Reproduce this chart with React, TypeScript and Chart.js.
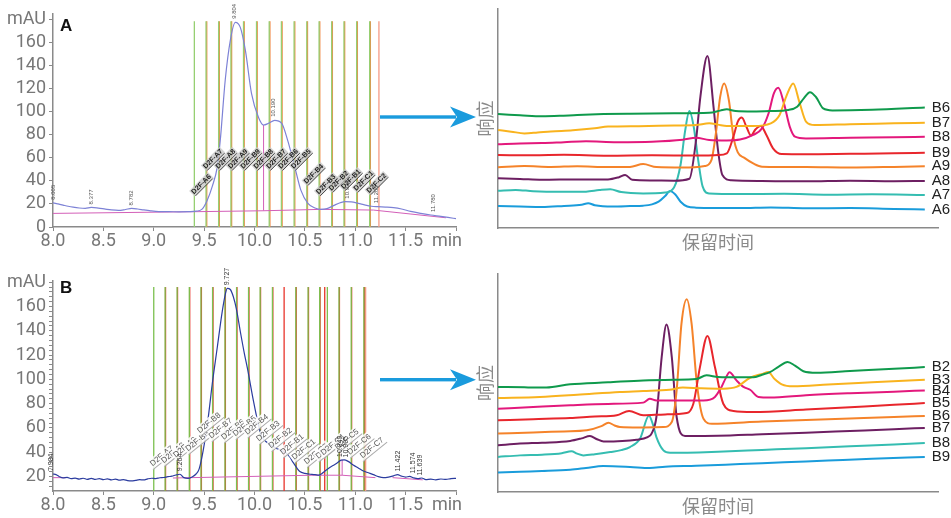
import React, { useEffect, useRef } from 'react';
import { Chart, registerables } from 'chart.js';
Chart.register(...registerables);

// ---------------- Left panels: axis ticks ----------------
const xTicksMin = [8, 8.5, 9, 9.5, 10, 10.5, 11, 11.5, 12];
const yTicksA = [0, 20, 40, 60, 80, 100, 120, 140, 160, 180];
const yTicksB = [12, 16, 20, 24, 28, 32, 36, 40, 44, 48, 52, 56, 60, 64, 68, 72, 76, 80, 84, 88, 92, 96, 100, 104, 108, 112, 116, 120, 124, 128, 132, 136, 140, 144, 148, 152, 156, 160, 164, 168, 172, 176, 180];

// ---------------- Panel A chromatogram (min, mAU) ----------------
const chromA: [number, number][] = [
  [8.00, 21], [8.05, 20], [8.10, 19], [8.15, 18], [8.20, 17.2], [8.26, 16.5], [8.32, 16.2], [8.38, 17], [8.45, 16.4],
  [8.52, 15.5], [8.58, 14.8], [8.65, 14.4], [8.72, 15.2], [8.78, 16.1], [8.84, 15.6], [8.90, 14.8], [8.97, 14],
  [9.05, 13.4], [9.15, 13.3], [9.25, 13.2], [9.35, 13.3], [9.42, 13.7], [9.48, 15.5], [9.53, 23], [9.58, 35],
  [9.63, 52], [9.66, 75], [9.71, 128], [9.76, 162], [9.81, 177.5], [9.86, 173], [9.91, 153], [9.97, 116],
  [10.04, 95], [10.09, 88.5], [10.14, 90], [10.20, 92.5], [10.27, 90], [10.33, 75], [10.40, 52], [10.46, 32],
  [10.53, 20.5], [10.60, 16.5], [10.66, 15.3], [10.72, 16], [10.79, 18.8], [10.85, 21], [10.90, 22], [10.96, 21.8],
  [11.03, 20.5], [11.10, 19], [11.16, 18], [11.22, 17.6], [11.30, 17.3], [11.38, 16.8], [11.46, 15.6], [11.55, 13.5],
  [11.65, 11.8], [11.75, 10.4], [11.85, 9.2], [11.92, 8.3], [12.0, 7.2],
];
const baseA: [number, number | null][] = [
  [8.0, 11.8], [9.42, 13.3], [10.09, 14.1], [10.66, 15.3], [11.18, 14.7], [11.9, 8], [11.91, null],
  [10.09, 14.1], [10.09, 88.5],
];
const fracA_pos = [9.403, 9.519, 9.644, 9.766, 9.891, 10.020, 10.146, 10.267, 10.393, 10.519, 10.641, 10.766, 10.888, 11.014, 11.143, 11.228];
const fracA_labels = ['D2F-A6', 'D2F-A7', 'D2F-A8', 'D2F-A9', 'D2F-B9', 'D2F-B8', 'D2F-B7', 'D2F-B6', 'D2F-B5', 'D2F-B4', 'D2F-B3', 'D2F-B2', 'D2F-B1', 'D2F-C1', 'D2F-C2'];
const fracA_labelY = [37, 59, 59, 59, 59, 59, 59, 59, 59, 46, 37, 40, 41.5, 40, 38];
const peakA_t = [8.005, 8.377, 8.782, 9.804, 10.190, 10.926, 11.206, 11.780];
const peakA_y = [21, 17, 16.1, 178, 93, 22, 18, 10.4];
const peakA_text = ['8.005', '8.377', '8.782', '9.804', '10.190', '10.926', '11.206', '11.780'];

// ---------------- Panel B chromatogram (min, mAU) ----------------
const chromB: [number, number][] = [
  [8.00, 22], [8.03, 21.5], [8.06, 20], [8.10, 18.8], [8.14, 19.2], [8.18, 18.2], [8.22, 18.6], [8.26, 17.8], [8.30, 18.5],
  [8.34, 17.6], [8.38, 18.4], [8.42, 17.5], [8.46, 18.2], [8.50, 17.4], [8.54, 18], [8.58, 17.2], [8.62, 17.8],
  [8.66, 16.9], [8.70, 17.4], [8.74, 16.6], [8.78, 16.3], [8.82, 16.8], [8.86, 17.3], [8.90, 17.1], [8.94, 18],
  [8.98, 18.5], [9.02, 18.2], [9.06, 18.9], [9.10, 19.1], [9.14, 19.8], [9.18, 20.2], [9.22, 21.2], [9.26, 21.8],
  [9.30, 19], [9.34, 18.4], [9.38, 19.6], [9.42, 22], [9.45, 26], [9.49, 41], [9.54, 68], [9.58, 95.7], [9.63, 126],
  [9.68, 156], [9.71, 170], [9.73, 175], [9.76, 174], [9.79, 168], [9.82, 158], [9.86, 139], [9.90, 121], [9.93, 109],
  [9.99, 82], [10.04, 62], [10.07, 53], [10.11, 49], [10.16, 46], [10.21, 43.5], [10.26, 41.5], [10.31, 39.5],
  [10.35, 36], [10.38, 32], [10.42, 27], [10.45, 24], [10.50, 22.5], [10.54, 22], [10.60, 21.5], [10.64, 21],
  [10.67, 22.5], [10.70, 24.5], [10.74, 27], [10.78, 29], [10.82, 31], [10.86, 33.5], [10.89, 33.7], [10.93, 32.4],
  [10.98, 29.5], [11.03, 27], [11.08, 24.5], [11.13, 23], [11.18, 21.5], [11.23, 19.8], [11.28, 19], [11.33, 19.5],
  [11.38, 20.5], [11.42, 21.5], [11.46, 20.2], [11.50, 19.5], [11.54, 20], [11.58, 18.8], [11.62, 18.2], [11.66, 18.7],
  [11.70, 17.3], [11.75, 17.8], [11.80, 17.2], [11.85, 17.9], [11.90, 17.5], [11.95, 18.2], [12.0, 18.4],
];
const baseB: [number, number | null][] = [
  [8.0, 19], [8.13, 19], [8.14, null],
  [9.19, 18.7], [10.57, 21], [10.87, 21], [11.2, 19], [11.21, null],
  [10.87, 21], [10.87, 33.7], [10.871, null],
  [11.37, 19], [11.67, 17.2],
];
const fracB_green = [9.0, 9.113, 9.232, 9.353, 9.469, 9.584, 9.707, 9.822, 9.941, 10.056, 10.178, 10.41, 10.532, 10.647, 10.723, 10.839, 10.96, 11.086];
const fracB_red = [9.117, 9.236, 9.357, 9.473, 9.588, 9.711, 9.826, 9.945, 10.06, 10.182, 10.294, 10.414, 10.536, 10.651, 10.697, 10.843, 10.964, 11.09];
const fracB_end = [11.103];
const fracB_pos = [9.0, 9.113, 9.232, 9.353, 9.469, 9.584, 9.707, 9.822, 9.941, 10.056, 10.178, 10.294, 10.41, 10.532, 10.647, 10.697, 10.839, 10.96, 11.086];
const fracB_labels = ['D2F-A7', 'D2F-A8', 'D2F-A9', 'D2F-B9', 'D2F-B8', 'D2F-B7', 'D2F-B6', 'D2F-B5', 'D2F-B4', 'D2F-B3', 'D2F-B2', 'D2F-B1', 'D2F-C1', 'D2F-C2', 'D2F-C3', 'D2F-C4', 'D2F-C5', 'D2F-C6', 'D2F-C7'];
const fracB_labelY = [36.8, 39.3, 44, 49, 64, 59.5, 58.6, 61.4, 62.7, 57.3, 51.6, 46.3, 42.2, 38.5, 43, 46, 50.4, 46.3, 43.4];
const peakB_t = [7.984, 9.264, 9.727, 10.849, 10.905, 11.422, 11.574, 11.639];
const peakB_y = [22, 21.8, 175, 33.6, 33.2, 21.5, 20, 18.2];
const peakB_text = ['7.984', '9.264', '9.727', '10.849', '10.905', '11.422', '11.574', '11.639'];

// ---------------- Right panels: overlaid fraction traces ----------------
const overlayA_names = ['B6', 'B7', 'B8', 'B9', 'A9', 'A8', 'A7', 'A6'];
const overlayB_names = ['B2', 'B3', 'B4', 'B5', 'B6', 'B7', 'B8', 'B9'];
const traceColors = ['#0f9a4c', '#f9b31e', '#e3187c', '#e8262c', '#f5832a', '#6d1f62', '#35bdb1', '#1a9cdb'];

const tA_B6: [number, number][] = [[0, 52], [5, 51.5], [10, 51], [14, 51.2], [18, 51.6], [24, 52], [30, 52.2], [40, 52.4], [48, 52.6], [50.5, 53.6], [52, 54.2], [54, 53.4], [58, 53.2], [62, 53.4], [66, 53.9], [68, 55.4], [69.5, 59.2], [70.9, 62], [72.3, 59.7], [73.9, 54.6], [76, 53.7], [85, 54], [97, 55]];
const tA_B7: [number, number][] = [[0, 44.7], [3, 44], [6, 43.2], [9, 43.6], [12, 44.1], [17, 44.6], [22, 45.5], [25, 46.3], [32, 46.5], [40, 46.8], [45, 47], [48, 47.8], [50, 47.2], [52, 46.6], [58, 46.6], [62, 47.8], [64, 51.6], [65.5, 60], [67.1, 66], [68.5, 57.5], [70, 48.6], [72, 47], [80, 47.4], [90, 47.8], [97, 48.1]];
const tA_B8: [number, number][] = [[0, 38.2], [5, 38.6], [10, 38.8], [15, 39.2], [20, 39.6], [27, 39.2], [35, 39.4], [42, 40.3], [45, 41.2], [48, 40.2], [52, 40], [55, 40.4], [58, 42.5], [60, 45.5], [61.5, 52.4], [62.7, 61.5], [63.7, 64], [65, 56.8], [66.3, 46.3], [67.5, 41.7], [70, 40.9], [80, 41.2], [90, 41.4], [97, 41.7]];
const tA_B9: [number, number][] = [[0, 33.3], [8, 33.2], [15, 33.4], [25, 33], [35, 33.2], [45, 33.1], [50, 33.3], [52, 34.1], [53.5, 41.7], [54.5, 48.6], [55.4, 50.4], [56.5, 46], [57.5, 42.2], [58.5, 45], [59.7, 46.6], [61, 42.5], [62.5, 36.4], [64.5, 33.8], [70, 33.7], [80, 33.9], [90, 34.1], [97, 34.4]];
const tA_A9: [number, number][] = [[0, 27.7], [6, 28.3], [12, 27.9], [18, 28.2], [25, 27.8], [30, 27.9], [33, 29.2], [36, 27.8], [42, 27.6], [47, 28.3], [48.5, 31], [49.5, 43], [50.5, 60], [51.4, 66], [52.5, 58], [53.5, 41.7], [54.5, 34.5], [56, 32], [58, 29.5], [60, 28], [70, 27.8], [80, 27.6], [90, 27.9], [97, 28.2]];
const tA_A8: [number, number][] = [[0, 22.7], [5, 22.4], [10, 22], [18, 22.2], [25, 22.2], [27.5, 23.2], [28.9, 24.2], [30.5, 22], [35, 21.7], [40, 21.6], [43.5, 22.5], [45, 40], [46, 60], [47.6, 78.5], [49, 55], [50, 35.6], [51, 24.2], [53, 21.8], [60, 21.5], [70, 21.3], [80, 21.6], [90, 21.4], [97, 21.5]];
const tA_A7: [number, number][] = [[0, 17], [4, 17.4], [8, 16.8], [14, 16.5], [20, 16.6], [23, 17.3], [25.5, 17.7], [28, 16.4], [33, 15.8], [38, 16.2], [40, 18.5], [41.5, 29], [42.5, 44], [43.5, 53.4], [44.5, 46], [45.5, 31], [46.5, 19], [48, 15.8], [55, 15.5], [65, 15.6], [75, 15.2], [85, 15.4], [97, 15.1]];
const tA_A6: [number, number][] = [[0, 10], [5, 9.8], [10, 9.6], [15, 10.1], [19, 10.6], [20.5, 11.3], [22, 10.4], [26, 9.8], [30, 10], [33, 10.2], [35, 10.8], [36.5, 12], [38, 14.6], [39.1, 16.9], [40.3, 15.3], [41.5, 12], [43, 9.8], [45, 9.3], [55, 9.1], [62, 9.4], [70, 9], [80, 9.1], [90, 8.7], [97, 8.5]];

const tB_B2: [number, number][] = [[0, 48.2], [6, 48], [11, 47.9], [16.4, 49.4], [25, 50.3], [33, 51.2], [40, 51.5], [45, 51.8], [47.4, 53.5], [50, 52.8], [55, 52.6], [58, 52.6], [60, 53.8], [61.8, 55], [63.8, 57.5], [65.8, 59.6], [67.5, 58], [69.4, 55.4], [72.4, 54.7], [80, 55.5], [90, 56.5], [97, 57.3]];
const tB_B3: [number, number][] = [[0, 43.1], [9.5, 43.6], [18, 44.6], [27.7, 45.9], [33, 46.3], [39, 46.9], [42, 47.9], [46, 47.6], [51.2, 47.4], [54.2, 48.2], [57.3, 52.4], [60.3, 54.3], [61.4, 55], [62.8, 52], [64.5, 49.4], [67.1, 48.5], [75, 49.3], [85, 50.3], [97, 51.5]];
const tB_B4: [number, number][] = [[0, 38.2], [8, 39], [16.4, 39.8], [25, 40.4], [33, 41], [34.5, 42.8], [36, 42], [40, 42], [46.7, 42], [49.3, 43.6], [50.8, 48.2], [51.7, 52], [52.6, 54.9], [54.2, 51.2], [55.8, 48.2], [57.3, 46.9], [59.2, 43.6], [61.8, 43.3], [70, 44.4], [80, 45.3], [90, 46], [97, 46.6]];
const tB_B5: [number, number][] = [[0, 32.9], [8, 33.4], [16.4, 33.9], [22, 34.6], [27, 35.2], [29.8, 37.2], [33, 35.2], [38, 35.6], [42.9, 36.2], [44.4, 40.5], [45.9, 57.3], [47.6, 71.6], [49.3, 57.3], [51.2, 40.5], [53.5, 37.2], [58, 36.7], [70, 37.8], [80, 38.9], [90, 40], [97, 40.8]];
const tB_B6: [number, number][] = [[0, 26.8], [8, 27.3], [15, 27.8], [20.2, 28.3], [23.5, 30.2], [25.1, 31.8], [26.5, 30.5], [27.7, 29.8], [32, 29.6], [37.6, 29.8], [39.5, 32.1], [40.6, 46.6], [41.7, 77.2], [42.9, 88.4], [44, 77.2], [45.2, 49.7], [46.7, 33.6], [48.6, 31.3], [60, 32.3], [70, 33], [80, 33.7], [90, 34.4], [97, 34.9]];
const tB_B7: [number, number][] = [[0, 21.4], [5, 22.2], [10, 22.6], [16.4, 23.4], [19, 24.6], [20.9, 25.7], [22.5, 24.2], [24, 23.2], [31.5, 24], [34, 25.2], [34.9, 26.8], [36, 34.4], [37.2, 61.9], [38.3, 76.8], [39.5, 61.9], [40.6, 34.4], [42.5, 25.7], [50, 25.8], [60, 26.5], [70, 27.2], [80, 28], [90, 28.8], [97, 29.4]];
const tB_B8: [number, number][] = [[0, 16.1], [5, 16.8], [10, 17.1], [14.5, 17.8], [16.7, 18.7], [18, 17.6], [19.4, 16.8], [22, 17.3], [25.5, 18.3], [28, 19.2], [30, 20.6], [32.3, 24.5], [34.3, 35], [35.2, 31], [36, 25.2], [37.6, 19.1], [39.1, 18], [50, 18.5], [60, 19.3], [70, 20.1], [80, 21], [90, 21.8], [97, 22.5]];
const tB_B9: [number, number][] = [[0, 8.9], [5, 9.3], [10, 9.6], [16.4, 10.2], [20, 11], [23.9, 11.9], [30, 11.5], [34.5, 11], [38, 11.6], [45, 12], [55, 12.8], [65, 13.6], [75, 14.4], [85, 15.2], [97, 16.1]];

const overlayA_traces = [tA_B6, tA_B7, tA_B8, tA_B9, tA_A9, tA_A8, tA_A7, tA_A6];
const overlayB_traces = [tB_B2, tB_B3, tB_B4, tB_B5, tB_B6, tB_B7, tB_B8, tB_B9];

// ---------------- styling ----------------
const TICK_FONT = { family: 'Roboto', size: 18 };
const TICK_COLOR = '#777777';
const AXIS_COLOR = '#8a8a8a';

const pts = (arr: [number, number | null][]) => arr.map(([x, y]) => ({ x, y }));

function vline(x: number, y0: number, y1: number, color: string) {
  return {
    data: [{ x, y: y0 }, { x, y: y1 }],
    borderColor: color,
    borderWidth: 1.3,
    pointRadius: 0,
    tension: 0,
    order: 10,
  };
}

type LeftCfg = {
  letter: string;
  letterY: number;
  ymin: number;
  ymax: number;
  yTicks: number[];
  padTop: number;
  xAxisH: number;
  chrom: [number, number][];
  chromColor: string;
  base: [number, number | null][];
  lines: any[];
  fracPos: number[];
  fracLabels: string[];
  fracLabelY: number[];
  fracStyle: 'A' | 'B';
  peakT: number[];
  peakY: number[];
  peakText: string[];
};

function leftPlugin(c: LeftCfg) {
  return {
    id: 'leftAnnot' + c.letter,
    afterDatasetsDraw(chart: any) {
      const ctx: CanvasRenderingContext2D = chart.ctx;
      const xs = chart.scales.x;
      const ys = chart.scales.y;
      ctx.save();
      // fraction labels
      c.fracLabels.forEach((t, i) => {
        const px = xs.getPixelForValue(c.fracPos[i]) + (c.fracStyle === 'A' ? 7 : 8);
        const py = ys.getPixelForValue(c.fracLabelY[i]);
        ctx.save();
        ctx.translate(px, py);
        ctx.rotate(c.fracStyle === 'A' ? -Math.PI / 4 : -0.68);
        ctx.textAlign = 'center';
        ctx.textBaseline = 'middle';
        if (c.fracStyle === 'A') {
          ctx.font = 'bold 7px "Liberation Sans"';
          const w = ctx.measureText(t).width;
          ctx.fillStyle = 'rgba(200,200,200,0.8)';
          ctx.fillRect(-w / 2 - 1, -4, w + 2, 8);
          ctx.fillStyle = '#1a1a1a';
          ctx.fillText(t, 0, 0);
          ctx.strokeStyle = '#222';
          ctx.lineWidth = 0.8;
          ctx.beginPath();
          ctx.moveTo(-w / 2, 4);
          ctx.lineTo(w / 2, 4);
          ctx.stroke();
        } else {
          ctx.font = '8px "Liberation Sans"';
          const w = ctx.measureText(t).width;
          ctx.fillStyle = 'rgba(255,255,255,0.85)';
          ctx.fillRect(-w / 2 - 1.5, -5, w + 3, 10);
          ctx.strokeStyle = '#aaa';
          ctx.lineWidth = 1;
          ctx.beginPath();
          ctx.moveTo(-w / 2 - 1.5, 5);
          ctx.lineTo(w / 2 + 1.5, 5);
          ctx.stroke();
          ctx.fillStyle = '#555';
          ctx.fillText(t, 0, 0);
        }
        ctx.restore();
      });
      // peak retention time labels
      c.peakText.forEach((t, i) => {
        const px = xs.getPixelForValue(c.peakT[i]);
        const py = ys.getPixelForValue(c.peakY[i]) - 3;
        ctx.save();
        ctx.translate(px, py);
        ctx.rotate(-Math.PI / 2);
        ctx.font = c.fracStyle === 'A' ? '6px "Liberation Sans"' : '7px "Liberation Sans"';
        ctx.textAlign = 'left';
        ctx.textBaseline = 'middle';
        ctx.fillStyle = c.fracStyle === 'A' ? '#555' : '#333';
        ctx.fillText(t, 0, 0);
        ctx.restore();
      });
      ctx.restore();
    },
    afterDraw(chart: any) {
      const ctx: CanvasRenderingContext2D = chart.ctx;
      const xs = chart.scales.x;
      ctx.save();
      ctx.font = 'bold 17px "Liberation Sans"';
      ctx.fillStyle = '#111';
      ctx.textAlign = 'left';
      ctx.textBaseline = 'middle';
      ctx.fillText(c.letter, 60, c.letterY);
      ctx.font = '18px Roboto';
      ctx.fillStyle = TICK_COLOR;
      ctx.textAlign = 'center';
      ctx.fillText('min', 447, xs.top + 4 + 0 + 10.8);
      ctx.restore();
    },
  };
}

function makeLeft(c: LeftCfg): any {
  return {
    type: 'line',
    data: {
      datasets: [
        {
          data: pts(c.chrom),
          borderColor: c.chromColor,
          borderWidth: 1.2,
          pointRadius: 0,
          cubicInterpolationMode: 'monotone',
          order: 0,
        },
        {
          data: pts(c.base),
          borderColor: '#d35fb8',
          borderWidth: 1,
          pointRadius: 0,
          spanGaps: false,
          tension: 0,
          order: 1,
        },
        ...c.lines,
      ],
    },
    options: {
      animation: false,
      responsive: false,
      maintainAspectRatio: false,
      events: [],
      layout: { padding: { top: c.padTop, right: 14, left: 0, bottom: 0 } },
      plugins: { legend: { display: false }, tooltip: { enabled: false } },
      scales: {
        x: {
          type: 'linear',
          min: 8,
          max: 12,
          afterBuildTicks: (s: any) => {
            s.ticks = xTicksMin.map((v) => ({ value: v }));
          },
          afterFit: (s: any) => {
            s.height = c.xAxisH;
          },
          ticks: {
            autoSkip: false,
            maxRotation: 0,
            padding: 0,
            font: TICK_FONT,
            color: TICK_COLOR,
            callback: (v: number) => (v === 12 ? '' : v.toFixed(1)),
          },
          grid: { display: true, drawOnChartArea: false, drawTicks: true, tickLength: 4, color: AXIS_COLOR },
          border: { display: true, color: AXIS_COLOR, width: 1.5 },
        },
        y: {
          type: 'linear',
          min: c.ymin,
          max: c.ymax,
          afterBuildTicks: (s: any) => {
            s.ticks = c.yTicks.map((v) => ({ value: v }));
          },
          afterFit: (s: any) => {
            s.width = 53;
          },
          ticks: {
            autoSkip: false,
            padding: 3,
            font: TICK_FONT,
            color: TICK_COLOR,
            callback: (v: number) => (v === 180 ? 'mAU' : v % 20 === 0 ? String(v) : ''),
          },
          grid: { display: true, drawOnChartArea: false, drawTicks: true, tickLength: 4, color: AXIS_COLOR },
          border: { display: true, color: AXIS_COLOR, width: 1.5 },
        },
      },
    },
    plugins: [leftPlugin(c)],
  };
}

function rightPlugin(names: string[]) {
  return {
    id: 'rightAnnot',
    afterDraw(chart: any) {
      const ctx: CanvasRenderingContext2D = chart.ctx;
      const xs = chart.scales.x;
      const ys = chart.scales.y;
      const area = chart.chartArea;
      ctx.save();
      ctx.font = '15px "Liberation Sans"';
      ctx.fillStyle = '#222';
      ctx.textAlign = 'left';
      ctx.textBaseline = 'middle';
      chart.data.datasets.forEach((ds: any, i: number) => {
        const last = ds.data[ds.data.length - 1];
        ctx.fillText(names[i], xs.getPixelForValue(last.x) + 7, ys.getPixelForValue(last.y));
      });
      ctx.font = '18px "Noto Sans CJK SC"';
      ctx.fillStyle = '#8a8a8a';
      ctx.textAlign = 'center';
      ctx.fillText('保留时间', (area.left + area.right) / 2, area.bottom + 14);
      ctx.translate(area.left - 13, (area.top + area.bottom) / 2);
      ctx.rotate(-Math.PI / 2);
      ctx.fillText('响应', 0, 0);
      ctx.restore();
    },
  };
}

function makeRight(traces: [number, number][][], names: string[], padTop: number, xAxisH: number): any {
  return {
    type: 'line',
    data: {
      datasets: traces.map((t, i) => ({
        data: pts(t),
        borderColor: traceColors[i],
        borderWidth: 2,
        pointRadius: 0,
        cubicInterpolationMode: 'monotone',
      })),
    },
    options: {
      animation: false,
      responsive: false,
      maintainAspectRatio: false,
      events: [],
      layout: { padding: { top: padTop, right: 13, left: 0, bottom: 0 } },
      plugins: { legend: { display: false }, tooltip: { enabled: false } },
      scales: {
        x: {
          type: 'linear',
          min: 0,
          max: 100,
          ticks: { display: false },
          grid: { display: false },
          border: { display: true, color: AXIS_COLOR, width: 1.5 },
          afterFit: (s: any) => {
            s.height = xAxisH;
          },
        },
        y: {
          type: 'linear',
          min: 0,
          max: 100,
          ticks: { display: false },
          grid: { display: false },
          border: { display: true, color: AXIS_COLOR, width: 1.5 },
          afterFit: (s: any) => {
            s.width = 28;
          },
        },
      },
    },
    plugins: [rightPlugin(names)],
  };
}

const GREEN_A = '#96cf72';
const ORANGE_A = '#f08a48';
const GREEN_B = '#7cc04f';
const RED_B = '#e8332a';
const SALMON = '#f59a85';

export default function App() {
  const aRef = useRef<HTMLCanvasElement>(null);
  const bRef = useRef<HTMLCanvasElement>(null);
  const raRef = useRef<HTMLCanvasElement>(null);
  const rbRef = useRef<HTMLCanvasElement>(null);

  useEffect(() => {
    const linesA: any[] = [];
    fracA_pos.forEach((x, i) => {
      if (i < fracA_pos.length - 1) linesA.push(vline(x, 0, 178.5, GREEN_A));
      if (i > 0) linesA.push(vline(x + 0.007, 0, 178.5, i === fracA_pos.length - 1 ? SALMON : ORANGE_A));
    });
    const linesB: any[] = [];
    fracB_green.forEach((x) => linesB.push(vline(x, 8, 176, GREEN_B)));
    fracB_red.forEach((x) => linesB.push(vline(x, 8, 176, RED_B)));
    fracB_end.forEach((x) => linesB.push(vline(x, 8, 176, SALMON)));

    const charts = [
      new Chart(aRef.current!, makeLeft({
        letter: 'A', letterY: 26, ymin: 0, ymax: 185, yTicks: yTicksA, padTop: 13, xAxisH: 31,
        chrom: chromA, chromColor: '#7d82d6', base: baseA, lines: linesA,
        fracPos: fracA_pos, fracLabels: fracA_labels, fracLabelY: fracA_labelY, fracStyle: 'A',
        peakT: peakA_t, peakY: peakA_y, peakText: peakA_text,
      })),
      new Chart(bRef.current!, makeLeft({
        letter: 'B', letterY: 30, ymin: 8, ymax: 181, yTicks: yTicksB, padTop: 23, xAxisH: 27,
        chrom: chromB, chromColor: '#2b3c9f', base: baseB, lines: linesB,
        fracPos: fracB_pos, fracLabels: fracB_labels, fracLabelY: fracB_labelY, fracStyle: 'B',
        peakT: peakB_t, peakY: peakB_y, peakText: peakB_text,
      })),
      new Chart(raRef.current!, makeRight(overlayA_traces, overlayA_names, 9, 30)),
      new Chart(rbRef.current!, makeRight(overlayB_traces, overlayB_names, 16, 26)),
    ];
    return () => charts.forEach((ch) => ch.destroy());
  }, []);

  const abs = (l: number, t: number, w: number, h: number): React.CSSProperties => ({
    position: 'absolute', left: l, top: t, width: w, height: h,
  });

  return (
    <div style={{ position: 'absolute', left: 0, top: 0, width: 951, height: 518, background: '#fff', overflow: 'hidden' }}>
      <canvas ref={aRef} width={470} height={258} style={abs(0, 0, 470, 258)} />
      <canvas ref={bRef} width={470} height={260} style={abs(0, 258, 470, 260)} />
      <canvas ref={raRef} width={481} height={258} style={abs(470, 0, 481, 258)} />
      <canvas ref={rbRef} width={481} height={260} style={abs(470, 258, 481, 260)} />
      <svg width={951} height={518} style={{ position: 'absolute', left: 0, top: 0, pointerEvents: 'none' }}>
        <rect x={380} y={115.3} width={76} height={3.4} fill="#1a9bdd" />
        <polygon points="476,117 450,106.5 457,117 450,127.5" fill="#1a9bdd" />
        <rect x={380} y={378} width={76} height={3.4} fill="#1a9bdd" />
        <polygon points="476,379.7 450,369.2 457,379.7 450,390.2" fill="#1a9bdd" />
      </svg>
    </div>
  );
}
